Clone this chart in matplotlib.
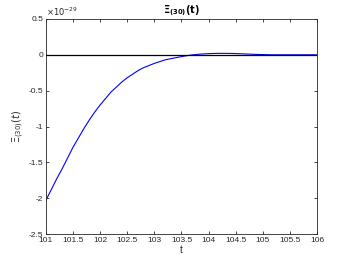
import numpy as np
import matplotlib
matplotlib.use("Agg")
import matplotlib.pyplot as plt

# values in units of 1e-29
t = [101.0, 101.1, 101.2, 101.3, 101.4, 101.5, 101.6, 101.7, 101.8, 101.9,
     102.0, 102.1, 102.2, 102.3, 102.4, 102.5, 102.6, 102.7, 102.8, 102.9,
     103.0, 103.1, 103.2, 103.3, 103.4, 103.5, 103.6, 103.7, 103.8, 103.9,
     104.0, 104.1, 104.2, 104.3, 104.4, 104.5, 104.6, 104.7, 104.8, 104.9,
     105.0, 105.1, 105.2, 105.4, 105.6, 105.8, 106.0]
xi = [-2.03, -1.88, -1.73, -1.59, -1.44, -1.29, -1.16, -1.03, -0.91, -0.80,
      -0.70, -0.61, -0.52, -0.45, -0.38, -0.32, -0.27, -0.22, -0.18, -0.15,
      -0.12, -0.095, -0.07, -0.055, -0.04, -0.025, -0.012, -0.002, 0.006, 0.012,
      0.016, 0.019, 0.020, 0.020, 0.019, 0.017, 0.014, 0.011, 0.008, 0.005,
      0.003, 0.001, 0.0, 0.0, 0.0, 0.0, 0.0]

xticks = [101, 101.5, 102, 102.5, 103, 103.5, 104, 104.5, 105, 105.5, 106]
xlabels = ['101', '101.5', '102', '102.5', '103', '103.5', '104', '104.5', '105', '105.5', '106']
yticks = [-2.5, -2, -1.5, -1, -0.5, 0, 0.5]
ylabels = ['-2.5', '-2', '-1.5', '-1', '-0.5', '0', '0.5']

plt.rcParams['font.family'] = ['Liberation Sans', 'DejaVu Sans']
axcol = '#262626'

fig = plt.figure(figsize=(3.5, 2.63), dpi=100)
ax = fig.add_axes([0.131, 0.110, 0.775, 0.818])
ax.plot(t, xi, color='blue', lw=0.8, zorder=2)
ax.axhline(0, color='black', lw=0.9, zorder=3)

ax.set_xlim(101, 106)
ax.set_ylim(-2.5, 0.5)
ax.set_xticks(xticks)
ax.set_xticklabels(xlabels)
ax.set_yticks(yticks)
ax.set_yticklabels(ylabels)
ax.tick_params(direction='in', length=2.5, width=0.6, labelsize=6,
               colors=axcol, top=True, right=True, pad=2)
for sp in ax.spines.values():
    sp.set_color(axcol)
    sp.set_linewidth(0.6)

ax.set_xlabel('t', fontsize=7, color=axcol, labelpad=1)
ax.set_ylabel(r'$\Xi_{(30)}(t)$', fontsize=7, color=axcol, labelpad=2)
ax.set_title(r'$\mathbf{\Xi_{(30)}(t)}$', fontsize=7, color='black', pad=4)
ax.text(0.0, 1.005, r'$\times 10^{-29}$', transform=ax.transAxes,
        fontsize=6, color=axcol, ha='left', va='bottom')

fig.savefig('out.png', dpi=100)
